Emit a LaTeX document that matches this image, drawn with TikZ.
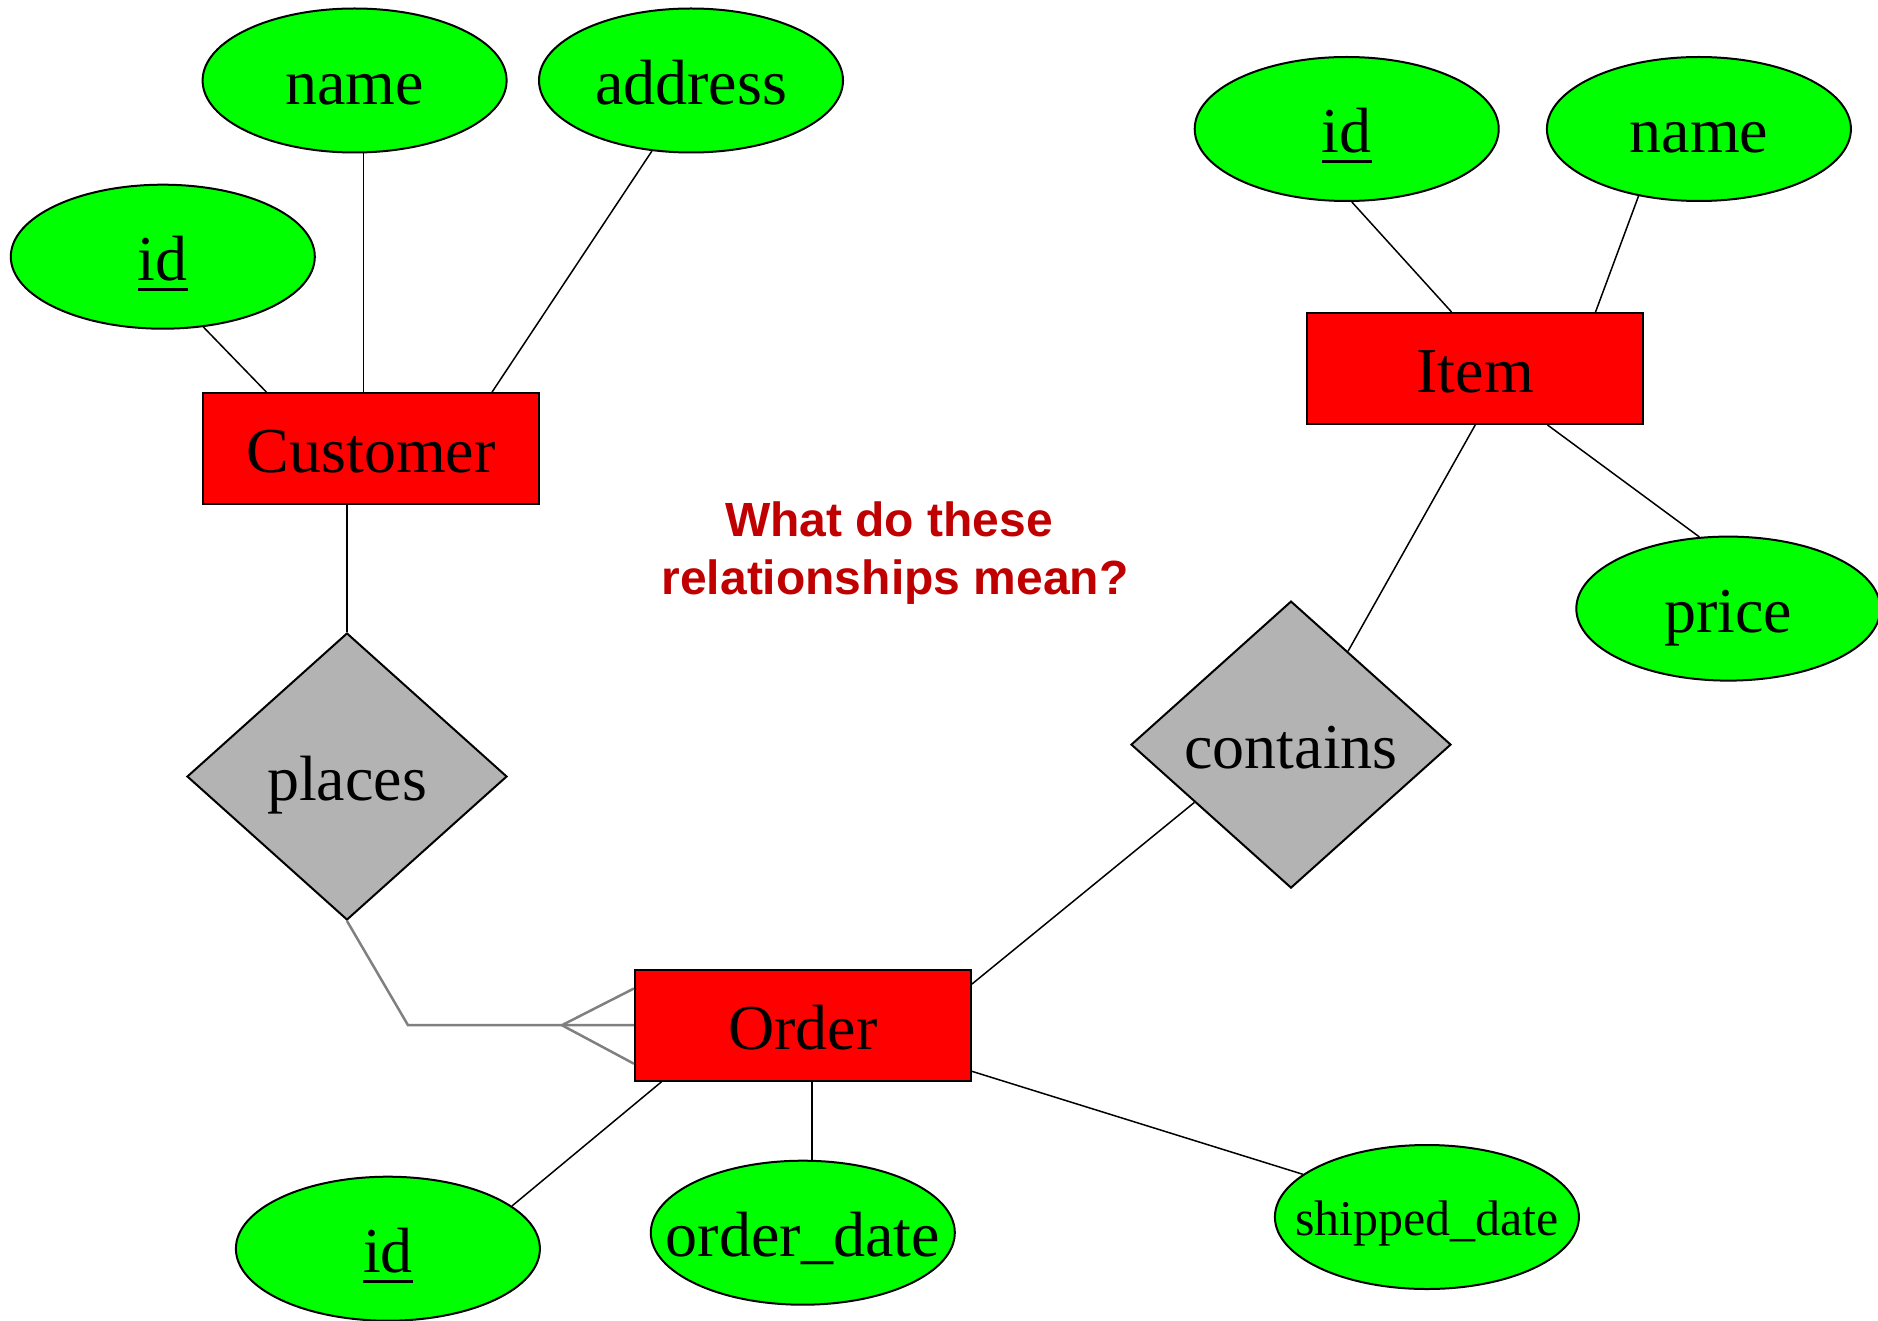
\documentclass[tikz,border=0pt]{standalone}
\usepackage{fontspec}
\setmainfont{Liberation Serif}
\newfontfamily\notesans{Liberation Sans}
\usetikzlibrary{shapes.geometric,calc}

\definecolor{entityred}{RGB}{255,0,0}
\definecolor{attrgreen}{RGB}{0,255,0}
\definecolor{relgray}{RGB}{179,179,179}
\definecolor{notered}{RGB}{192,0,0}
\definecolor{crowgray}{RGB}{128,128,128}

% key attributes: text with a rule beneath it
\newcommand\keyattr[1]{\setbox0\hbox{#1}\rlap{\rule[-10pt]{\wd0}{3pt}}\box0}
% label that does not widen its ellipse
\newcommand\snug[1]{\makebox[0pt]{#1}}

\tikzset{
  erbase/.style={draw=black, line width=2pt, inner sep=0pt,
    font=\fontsize{64}{70}\selectfont, text height=56pt, text depth=8pt},
  entity/.style={erbase, rectangle, fill=entityred,
    minimum width=336pt, minimum height=111pt},
  attr/.style={erbase, ellipse, fill=attrgreen,
    minimum width=304pt, minimum height=144pt},
  smallattr/.style={attr, font=\fontsize{50}{56}\selectfont,
    text height=44pt, text depth=8pt},
  rel/.style={erbase, diamond, fill=relgray,
    minimum width=320pt, minimum height=287pt},
  link/.style={draw=black, line width=1.5pt},
  crow/.style={draw=crowgray, line width=2.5pt},
  note/.style={text=notered, align=center,
    font=\notesans\bfseries\fontsize{48}{58}\selectfont}
}

\begin{document}
\begin{tikzpicture}[x=1pt, y=-1pt]
\useasboundingbox (0,0) rectangle (1878,1321);

% entities
\node[entity] (cust)  at (371.1, 448.5)  {Customer};
\node[entity] (order) at (802.9, 1025.2) {Order};
\node[entity] (item)  at (1475.2, 368.5) {Item};

% relationships
\node[rel] (places)   at (347, 776.5)   {places};
\node[rel] (contains) at (1291, 744.6)  {contains};

% customer attributes
\node[attr] (cid)   at (162.8, 256.7) {\keyattr{id}};
\node[attr] (cname) at (354.6, 80.5)  {\snug{name}};
\node[attr] (caddr) at (691, 80.5)    {\snug{address}};

% item attributes
\node[attr] (iid)    at (1346.7, 129)   {\keyattr{id}};
\node[attr] (iname)  at (1698.9, 129)   {\snug{name}};
\node[attr] (iprice) at (1728.3, 608.6) {\snug{price}};

% order attributes
\node[attr]      (oid)   at (387.9, 1248.7)  {\keyattr{id}};
\node[attr]      (odate) at (802.8, 1232.7)  {\snug{order\_date}};
\node[smallattr] (oship) at (1426.9, 1217)   {\snug{shipped\_date}};

% question
\node[note] (question) at (895, 553.4) {What do these\hspace*{12pt}\\relationships mean?};

% customer links
\draw[link] (cid.-60) -- ($(cust.north west)!0.19!(cust.north east)$);
\draw[link] (cname.-83.6) -- (cname.-83.6 |- cust.north);
\draw[link] (caddr.-119.4) -- ($(cust.north west)!0.858!(cust.north east)$);
\draw[link] (places.north |- cust.south) -- (places.north);

% places -- order, many side
\coordinate (bend) at ($(places.south)+(61,0)$);
\coordinate (foot) at ($(order.west)+(-72,0)$);
\draw[crow] (places.south) -- (bend |- order.west) -- (order.west);
\draw[crow] (foot) -- ($(order.west)+(0,-36.7)$);
\draw[crow] (foot) -- ($(order.west)+(0,38.5)$);

% order links
\draw[link] (oid.19.2) -- ($(order.south west)!0.082!(order.south east)$);
\draw[link] (odate.83.2) -- (odate.83.2 |- order.south);
\draw[link] (oship.161.2) -- ($(order.north east)!0.908!(order.south east)$);
\draw[link] ($(order.north east)!0.136!(order.south east)$) -- ($(contains.west)!0.4!(contains.south)$);

% item links
\draw[link] ($(contains.north)!0.354!(contains.east)$) -- (item.south);
\draw[link] (iid.-86.3) -- ($(item.north west)!0.43!(item.north east)$);
\draw[link] (iname.-132) -- ($(item.north west)!0.856!(item.north east)$);
\draw[link] ($(item.south west)!0.714!(item.south east)$) -- (iprice.112);
\end{tikzpicture}
\end{document}
